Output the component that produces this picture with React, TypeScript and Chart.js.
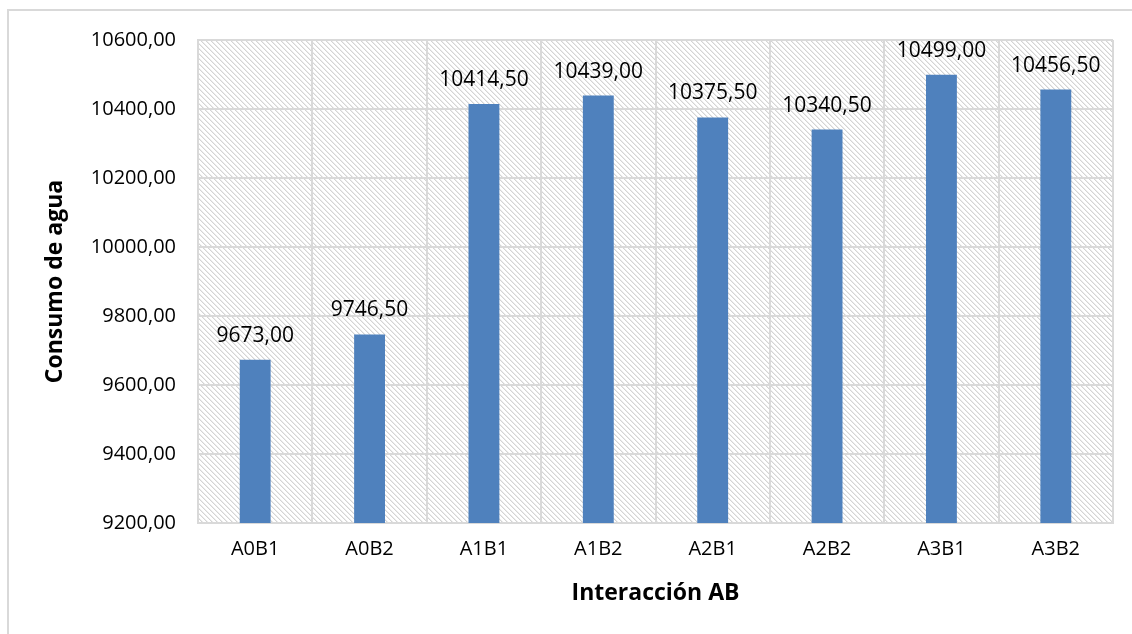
import React, { useEffect, useRef } from "react";
import { Chart, registerables } from "chart.js";

Chart.register(...registerables);

const categories = ["A0B1", "A0B2", "A1B1", "A1B2", "A2B1", "A2B2", "A3B1", "A3B2"];
const consumoValues = [9673.0, 9746.5, 10414.5, 10439.0, 10375.5, 10340.5, 10499.0, 10456.5];
const yMin = 9200;
const yMax = 10600;
const yStep = 200;
const xTitle = "Interacción AB";
const yTitle = "Consumo de agua";

const FONT = "'Open Sans', sans-serif";
const fmt = (v: number) => v.toFixed(2).replace(".", ",");

function makePattern(ctx: CanvasRenderingContext2D) {
  const size = 5;
  const c = document.createElement("canvas");
  c.width = size;
  c.height = size;
  const p = c.getContext("2d")!;
  p.fillStyle = "#ffffff";
  p.fillRect(0, 0, size, size);
  for (let i = 0; i < size; i++) {
    p.fillStyle = "#d4d4d4";
    p.fillRect(i, i, 1, 1);
    p.fillStyle = "#ececec";
    p.fillRect((i + 1) % size, i, 1, 1);
  }
  return ctx.createPattern(c, "repeat");
}

const hatchPlugin = {
  id: "hatch",
  beforeDraw(chart: any) {
    const { ctx, chartArea } = chart;
    ctx.save();
    ctx.fillStyle = "#ffffff";
    ctx.fillRect(0, 0, chart.width, chart.height);
    const pat = makePattern(ctx);
    if (pat) {
      ctx.fillStyle = pat;
      ctx.fillRect(chartArea.left, chartArea.top, chartArea.right - chartArea.left, chartArea.bottom - chartArea.top);
    }
    ctx.restore();
  },
};

const labelPlugin = {
  id: "valueLabels",
  afterDatasetsDraw(chart: any) {
    const { ctx } = chart;
    const meta = chart.getDatasetMeta(0);
    const data = chart.data.datasets[0].data as number[];
    ctx.save();
    ctx.font = `21px ${FONT}`;
    ctx.fillStyle = "#000000";
    ctx.textAlign = "center";
    ctx.textBaseline = "alphabetic";
    meta.data.forEach((bar: any, i: number) => {
      ctx.fillText(fmt(data[i]), bar.x, bar.y - 18);
    });
    ctx.restore();
  },
};

export default function App() {
  const ref = useRef<HTMLCanvasElement>(null);
  useEffect(() => {
    if (!ref.current) return;
    const chart = new Chart(ref.current, {
      type: "bar",
      data: {
        labels: categories,
        datasets: [
          {
            data: consumoValues,
            backgroundColor: "#4F81BD",
            borderWidth: 0,
            barPercentage: 0.27,
            categoryPercentage: 1,
          },
        ],
      },
      options: {
        responsive: false,
        animation: false,
        layout: { padding: { top: 40, right: 19, left: 0, bottom: 0 } },
        plugins: { legend: { display: false }, tooltip: { enabled: false } },
        scales: {
          x: {
            grid: { color: "#d9d9d9", lineWidth: 2, drawTicks: false, offset: true },
            border: { color: "#d9d9d9", width: 2 },
            ticks: { color: "#000000", font: { family: FONT, size: 20 }, padding: 14 },
            title: {
              display: true,
              text: xTitle,
              color: "#000000",
              font: { family: FONT, size: 23, weight: "bold" },
              padding: { top: 0, bottom: 27 },
            },
            afterFit: (s: any) => {
              s.height = 111;
            },
          },
          y: {
            min: yMin,
            max: yMax,
            grid: { color: "#d9d9d9", lineWidth: 2, drawTicks: false },
            border: { color: "#d9d9d9", width: 2 },
            ticks: {
              stepSize: yStep,
              color: "#000000",
              font: { family: FONT, size: 20 },
              padding: 22,
              callback: (v: any) => fmt(Number(v)),
            },
            title: {
              display: true,
              text: yTitle,
              color: "#000000",
              font: { family: FONT, size: 23, weight: "bold" },
              padding: { top: 42, bottom: 0 },
            },
            afterFit: (s: any) => {
              s.width = 198;
            },
          },
        },
      },
      plugins: [hatchPlugin, labelPlugin],
    });
    return () => chart.destroy();
  }, []);

  return (
    <div style={{ position: "absolute", left: 0, top: 0, width: 1132, height: 634, background: "#fff", overflow: "hidden" }}>
      <canvas ref={ref} width={1132} height={634} style={{ position: "absolute", left: 0, top: 0 }} />
      <div
        style={{
          position: "absolute",
          left: 7,
          top: 9,
          width: 1140,
          height: 640,
          borderLeft: "2px solid #d9d9d9",
          borderTop: "2px solid #d9d9d9",
          pointerEvents: "none",
        }}
      />
    </div>
  );
}
